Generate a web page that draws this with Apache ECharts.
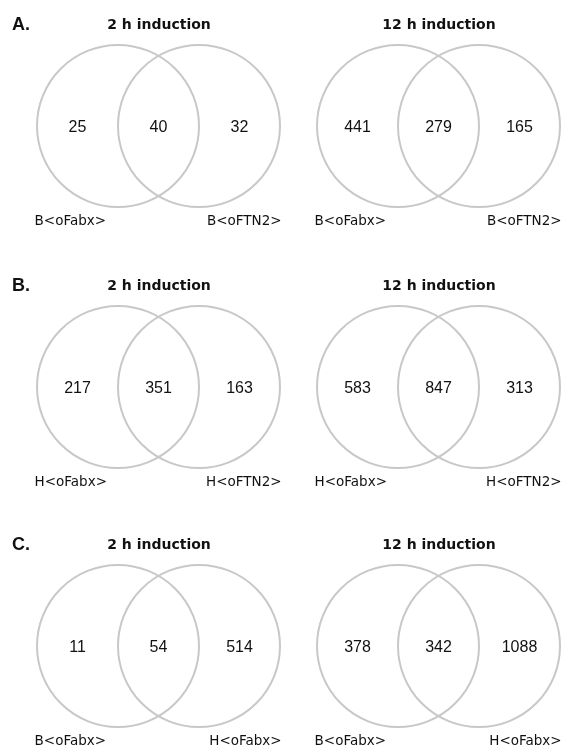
<!DOCTYPE html>
<html>
<head>
<meta charset="utf-8">
<script src="https://cdn.jsdelivr.net/npm/echarts@6/dist/echarts.min.js"></script>
<style>
  html, body { margin: 0; background: #fff; }
  #chart { width: 565px; height: 752px; }
</style>
</head>
<body>
<div id="chart"></div>
<script>
// Venn counts: rows = panels A/B/C, columns = [2 h, 12 h]
const panelLetters = ['A.', 'B.', 'C.']
const timepoints = ['2 h induction', '12 h induction']
const leftSets = ['B<oFabx>', 'H<oFabx>', 'B<oFabx>']
const rightSets = ['B<oFTN2>', 'H<oFTN2>', 'H<oFabx>']
const onlyLeft = [[25, 441], [217, 583], [11, 378]]
const shared = [[40, 279], [351, 847], [54, 342]]
const onlyRight = [[32, 165], [163, 313], [514, 1088]]

// layout in px
const rowCenterY = [126, 387, 646]
const colLeft = [37, 317]
const R = 81
const LABEL_FONT = '13.5px "DejaVu Sans", sans-serif'
const NUM_FONT = '16px "Liberation Sans", Arial, sans-serif'
const RING = '#c8c8c8'

const chart = echarts.init(document.getElementById('chart'))

const grid = [], xAxis = [], yAxis = [], series = [], title = []

panelLetters.forEach((letter, row) => {
  const titleY = rowCenterY[row] - 101
  title.push({
    text: letter, left: 12, top: titleY, padding: 0,
    textAlign: 'left', textVerticalAlign: 'middle',
    textStyle: { fontFamily: '"Liberation Sans", Arial', fontWeight: 'bold', fontSize: 18, color: '#111' }
  })
  timepoints.forEach((tp, col) => {
    const idx = grid.length
    title.push({
      text: tp, left: colLeft[col] + 122, top: titleY, padding: 0,
      textAlign: 'center', textVerticalAlign: 'middle',
      textStyle: { fontFamily: '"DejaVu Sans", sans-serif', fontWeight: 'bold', fontSize: 14, color: '#111' }
    })
    grid.push({ left: colLeft[col], top: rowCenterY[row] - R, width: 3 * R, height: 2 * R })
    xAxis.push({ type: 'value', gridIndex: idx, min: -1, max: 2, show: false })
    yAxis.push({ type: 'value', gridIndex: idx, min: -1, max: 1, show: false })

    const leftName = leftSets[row], rightName = rightSets[row]
    series.push({
      type: 'custom',
      xAxisIndex: idx,
      yAxisIndex: idx,
      clip: false,
      silent: true,
      data: [[onlyLeft[row][col], shared[row][col], onlyRight[row][col]]],
      renderItem: (params, api) => {
        const r = api.size([1, 0])[0]
        const ring = (cx) => {
          const c = api.coord([cx, 0])
          return { type: 'circle', shape: { cx: c[0], cy: c[1], r }, style: { fill: 'none', stroke: RING, lineWidth: 2 } }
        }
        const num = (x, v) => {
          const p = api.coord([x, 0])
          return { type: 'text', x: p[0], y: p[1] + 1.5, style: { text: String(v), align: 'center', verticalAlign: 'middle', font: NUM_FONT, fill: '#111' } }
        }
        const label = (x, text, align) => {
          const p = api.coord([x, -1.18])
          return { type: 'text', x: p[0], y: p[1], style: { text, align, verticalAlign: 'middle', font: LABEL_FONT, fill: '#111' } }
        }
        return {
          type: 'group',
          children: [
            ring(0), ring(1),
            num(-0.5, api.value(0)), num(0.5, api.value(1)), num(1.5, api.value(2)),
            label(-1.03, leftName, 'left'), label(2.02, rightName, 'right')
          ]
        }
      }
    })
  })
})

chart.setOption({ animation: false, title, grid, xAxis, yAxis, series })
window.addEventListener('resize', () => chart.resize())
</script>
</body>
</html>
